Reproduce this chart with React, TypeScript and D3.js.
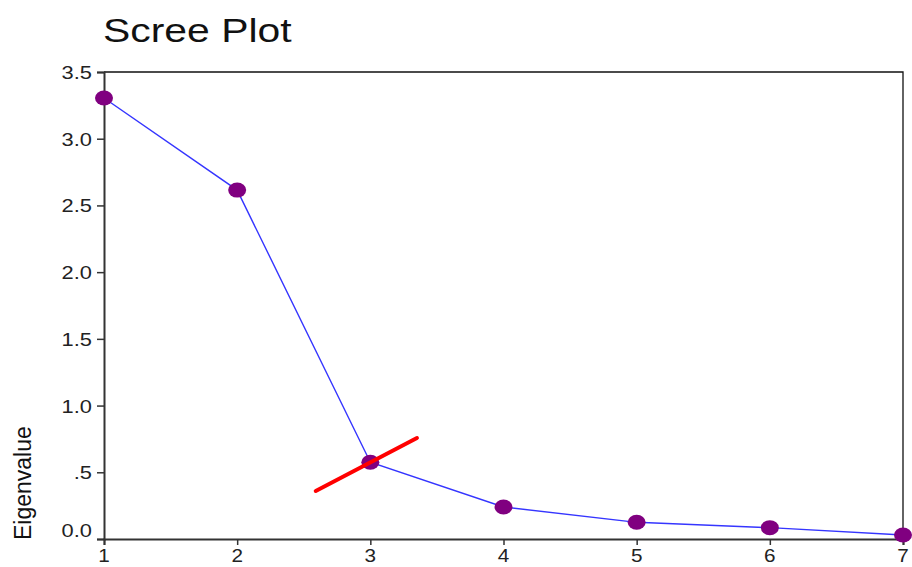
import React, { useEffect, useRef } from "react";
import * as d3 from "d3";

// components and their eigenvalues
const components = [1, 2, 3, 4, 5, 6, 7];
const eigenvalues = [3.305, 2.615, 0.575, 0.24, 0.125, 0.085, 0.03];
const yTicks = [0, 0.5, 1, 1.5, 2, 2.5, 3, 3.5];
const yTickLabels = ["0.0", ".5", "1.0", "1.5", "2.0", "2.5", "3.0", "3.5"];
// red "elbow" line, in data units
const elbowX = [2.59, 3.35];
const elbowY = [0.36, 0.757];

const App = () => {
  const svgRef = useRef<SVGSVGElement>(null);

  useEffect(() => {
    const svg = d3.select(svgRef.current);
    svg.selectAll("*").remove();

    const left = 104, right = 903, top = 72, bottom = 539;
    const x = d3.scaleLinear().domain([1, 7]).range([left, right]);
    const y = d3.scaleLinear().domain([0, 3.5]).range([bottom, top]);
    const font = "'Liberation Sans', Arial, sans-serif";

    // frame: top and right black
    svg.append("path")
      .attr("d", `M${left},${top}H${right}V${bottom}`)
      .attr("fill", "none")
      .attr("stroke", "#111")
      .attr("stroke-width", 1.3);

    // axes
    const yAxis = svg.append("g")
      .attr("transform", `translate(${left},0)`)
      .call(d3.axisLeft(y).tickValues(yTicks).tickSize(7).tickFormat(() => ""));
    const xAxis = svg.append("g")
      .attr("transform", `translate(0,${bottom})`)
      .call(d3.axisBottom(x).tickValues(components).tickSize(6).tickFormat(() => ""));
    [yAxis, xAxis].forEach(g => {
      g.select(".domain").attr("stroke", "#333").attr("stroke-width", 2);
      g.selectAll(".tick line").attr("stroke", "#333").attr("stroke-width", 1.5);
    });

    // tick labels (stretched horizontally like the reference)
    yTicks.forEach((t, i) => {
      // lowest label sits just above the axis
      const dy = t === 0 ? -2 : 7;
      svg.append("text")
        .attr("transform", `translate(92,${y(t) + dy}) scale(1.15,1)`)
        .attr("text-anchor", "end")
        .attr("font-family", font)
        .attr("font-size", 19)
        .attr("fill", "#222")
        .text(yTickLabels[i]);
    });
    components.forEach(c => {
      svg.append("text")
        .attr("transform", `translate(${x(c)},${bottom + 23}) scale(1.15,1)`)
        .attr("text-anchor", "middle")
        .attr("font-family", font)
        .attr("font-size", 18)
        .attr("fill", "#222")
        .text(String(c));
    });

    // title
    svg.append("text")
      .attr("transform", `translate(103,42) scale(1.24,1)`)
      .attr("font-family", font)
      .attr("font-size", 33)
      .attr("fill", "#111")
      .text("Scree Plot");

    // y label
    svg.append("text")
      .attr("transform", `translate(31,${bottom + 1}) rotate(-90)`)
      .attr("font-family", font)
      .attr("font-size", 23)
      .attr("fill", "#111")
      .text("Eigenvalue");

    // line
    const line = d3.line<number>()
      .x((_, i) => x(components[i]))
      .y(d => y(d));
    svg.append("path")
      .datum(eigenvalues)
      .attr("fill", "none")
      .attr("stroke", "#3535ff")
      .attr("stroke-width", 1.4)
      .attr("d", line);

    // markers
    svg.selectAll(".dot")
      .data(eigenvalues)
      .enter()
      .append("ellipse")
      .attr("cx", (_, i) => x(components[i]))
      .attr("cy", d => y(d))
      .attr("rx", 9)
      .attr("ry", 7.5)
      .attr("fill", "#800080");

    // elbow marker
    svg.append("line")
      .attr("x1", x(elbowX[0]))
      .attr("y1", y(elbowY[0]))
      .attr("x2", x(elbowX[1]))
      .attr("y2", y(elbowY[1]))
      .attr("stroke", "#ff0000")
      .attr("stroke-width", 4)
      .attr("stroke-linecap", "round");
  }, []);

  return (
    <svg
      ref={svgRef}
      width={912}
      height={567}
      style={{ position: "absolute", left: 0, top: 0, background: "#fff" }}
    />
  );
};

export default App;
